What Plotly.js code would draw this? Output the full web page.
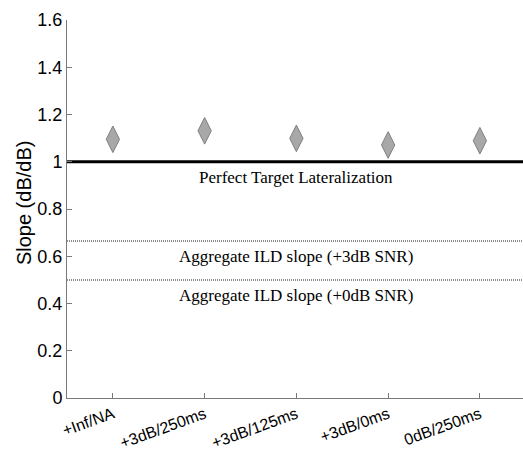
<!DOCTYPE html>
<html>
<head>
<meta charset="utf-8">
<script src="https://cdn.plot.ly/plotly-3.0.1.min.js"></script>
<style>html,body{margin:0;padding:0;background:#fff;}#chart{width:523px;height:451px;}</style>
</head>
<body>
<div id="chart"></div>
<script>
const categories = ['+Inf/NA', '+3dB/250ms', '+3dB/125ms', '+3dB/0ms', '0dB/250ms'];
const slopes = [1.095, 1.131, 1.099, 1.071, 1.089];
const refValues = [1, 0.665, 0.5];
const refLabels = ['Perfect Target Lateralization', 'Aggregate ILD slope (+3dB SNR)', 'Aggregate ILD slope (+0dB SNR)'];
const yTicks = [0, 0.2, 0.4, 0.6, 0.8, 1, 1.2, 1.4, 1.6];
const yTitle = 'Slope (dB/dB)';

const traces = [{
  type: 'scatter',
  mode: 'markers',
  x: categories,
  y: slopes,
  marker: {symbol: 'diamond-tall', size: 19, color: '#a8a8a8', line: {color: '#7f7f7f', width: 1}},
  hoverinfo: 'skip',
  showlegend: false
}];

const shapes = refValues.map((v, i) => ({
  type: 'line', xref: 'paper', yref: 'y', x0: 0, x1: 1, y0: v, y1: v,
  line: i === 0 ? {color: '#000', width: 3} : {color: '#8c8c8c', width: 2, dash: '1px,1px'},
  layer: 'below'
}));

const annotations = refValues.map((v, i) => ({
  x: categories[2], y: v, xref: 'x', yref: 'y',
  text: refLabels[i], showarrow: false, xanchor: 'center', yanchor: 'top', yshift: -4,
  font: {family: 'Liberation Serif, Times New Roman, serif', size: 17, color: '#000'}
}));
annotations.push({
  xref: 'paper', yref: 'y', x: 0, y: 0.825, xshift: -43,
  text: yTitle, textangle: -90, showarrow: false,
  xanchor: 'center', yanchor: 'middle',
  font: {family: 'Liberation Sans, Arial, sans-serif', size: 20, color: '#000'}
});

const layout = {
  width: 523, height: 451,
  margin: {l: 67, r: 0, t: 20, b: 53},
  paper_bgcolor: '#fff', plot_bgcolor: '#fff',
  showlegend: false,
  font: {family: 'Liberation Sans, Arial, sans-serif', color: '#000'},
  xaxis: {
    type: 'category', range: [-0.5, 4.47],
    showline: true, linecolor: '#7a7a7a', linewidth: 1,
    ticks: 'inside', ticklen: 5, tickcolor: '#7a7a7a',
    tickangle: -20, tickfont: {size: 16, color: '#000'},
    showgrid: false, zeroline: false, mirror: false
  },
  yaxis: {
    range: [0, 1.6], tickvals: yTicks,
    showline: true, linecolor: '#7a7a7a', linewidth: 1,
    ticks: 'inside', ticklen: 5, tickcolor: '#7a7a7a',
    tickfont: {size: 18, color: '#000'},
    showgrid: false, zeroline: false
  },
  shapes: shapes,
  annotations: annotations
};

Plotly.newPlot('chart', traces, layout, {staticPlot: true, displayModeBar: false});
</script>
</body>
</html>
